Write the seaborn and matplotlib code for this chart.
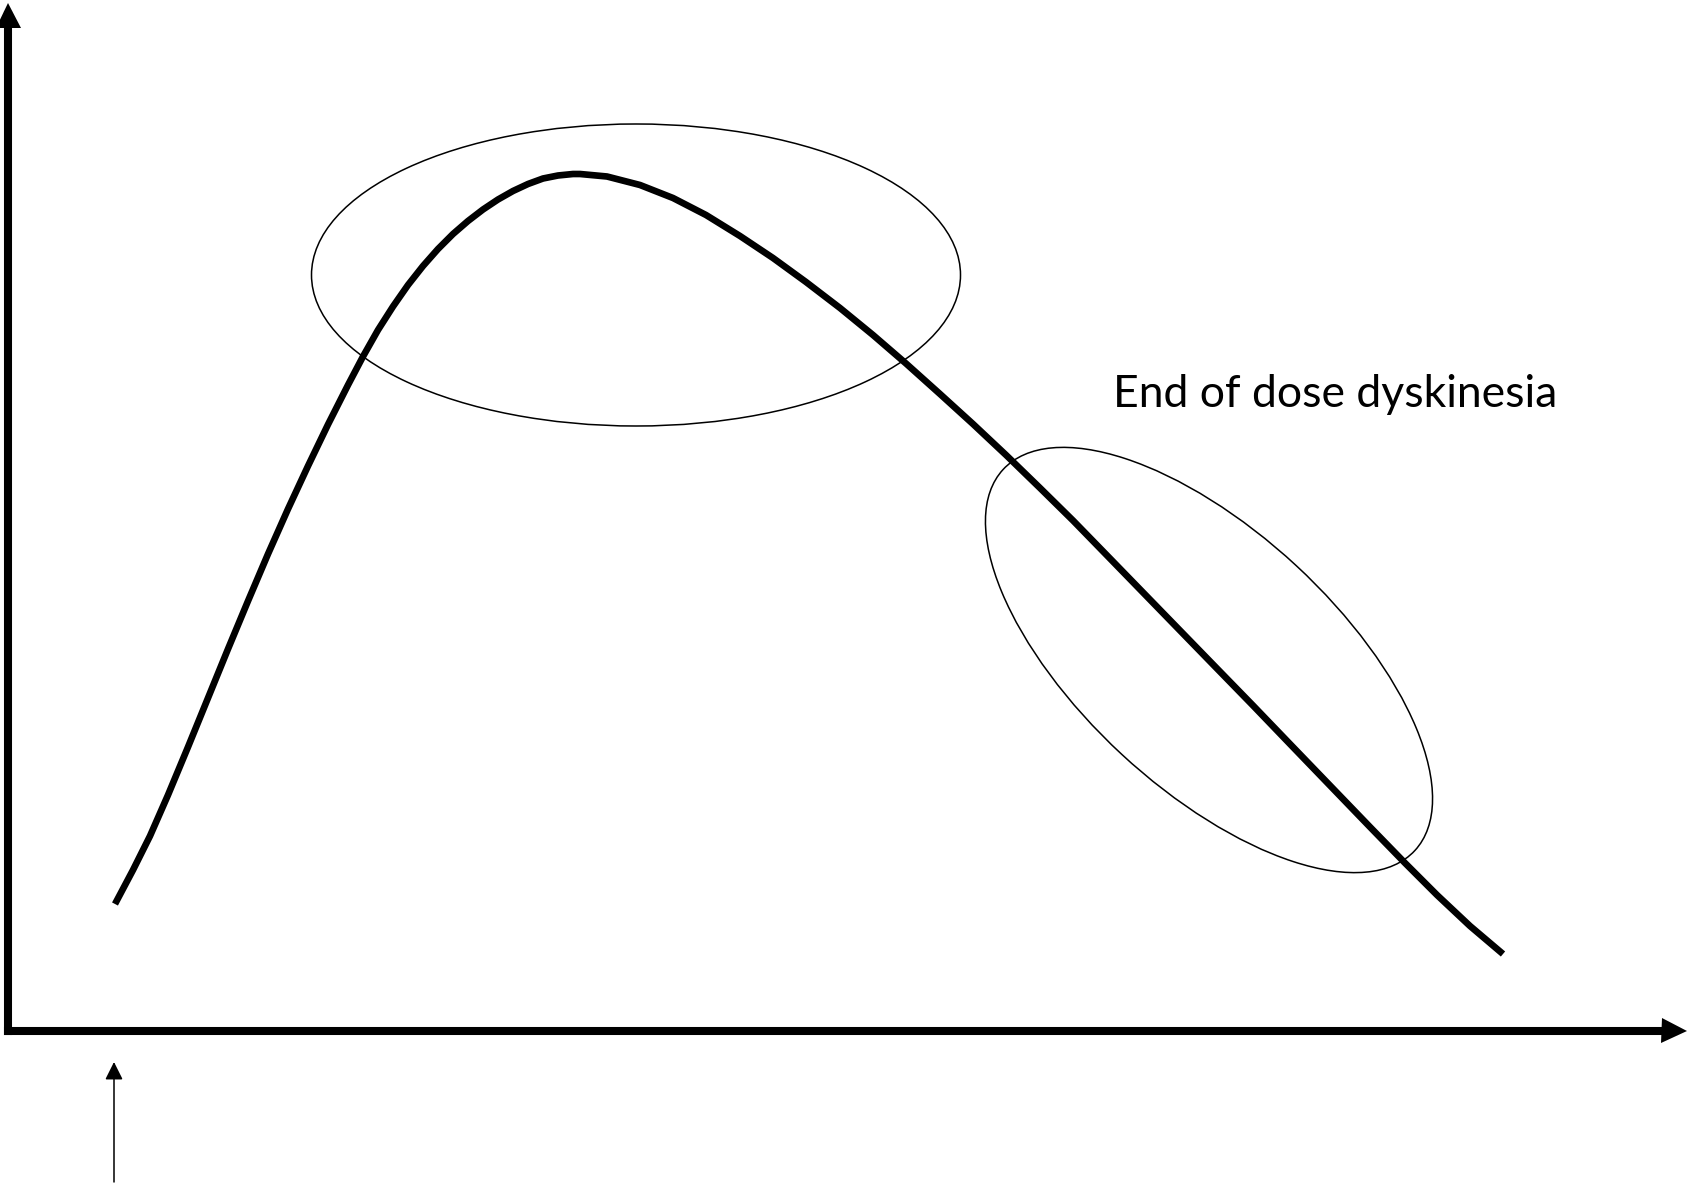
import numpy as np
import pandas as pd
import matplotlib
matplotlib.use("Agg")
import matplotlib.pyplot as plt
from matplotlib.patches import Ellipse
import seaborn as sns

# curve (arbitrary units, origin at the axes corner)
time = [107, 125, 142, 160, 180, 200, 220, 240, 260, 280, 300, 320, 340,
        355, 370, 385, 400, 415, 430, 445, 460, 475, 490, 505, 520, 535,
        550, 565, 572, 599, 632, 665, 698, 732, 765, 798, 832, 865, 898,
        932, 965, 998, 1032, 1065, 1102, 1137, 1172, 1207, 1245, 1282,
        1322, 1362, 1397, 1429, 1462, 1495]
level = [127, 161, 195, 236, 284, 333, 382, 430, 477, 522, 565, 606.5, 646,
         674.5, 701, 724.5, 746, 765, 782, 797, 810, 821.5, 831.5, 840, 847,
         852.5, 855.5, 857, 857, 854.5, 846, 833, 816, 795, 773, 749, 723,
         696, 667.5, 637, 607, 576, 543, 510.5, 472.5, 436.5, 400.5, 364.5,
         325.5, 287, 245.5, 204, 168, 136, 105, 77]

# highlighted regions: centre x, centre y, width, height, angle
peak_zone = (628, 756, 649, 302, 0)
end_zone = (1201, 371, 561, 257, -42.8)

label_text = "End of dose dyskinesia"
label_pos = (1105, 624)

# dose marker below the time axis
dose_time = 106
dose_arrow = (-151, -31)

df = pd.DataFrame({"time": time, "level": level})

sns.set_style("white")
plt.rcParams["font.family"] = ["Lato", "DejaVu Sans"]

W, H = 1691, 1187
fig = plt.figure(figsize=(W / 100, H / 100), dpi=100)
ax = fig.add_axes([8 / W, (H - 1031) / H, 1666 / W, 1016 / H])
ax.set_xlim(0, 1666)
ax.set_ylim(0, 1016)

sns.lineplot(data=df, x="time", y="level", ax=ax, color="black", lw=4.8,
             sort=False, solid_capstyle="butt", solid_joinstyle="round")

for cx, cy, w, h, ang in (peak_zone, end_zone):
    ax.add_patch(Ellipse((cx, cy), w, h, angle=ang, fill=False,
                         ec="black", lw=1.1))

ax.text(label_pos[0], label_pos[1], label_text, fontsize=32,
        va="baseline", ha="left", color="black")

ax.annotate("", xy=(dose_time, dose_arrow[1]), xytext=(dose_time, dose_arrow[0]),
            arrowprops=dict(arrowstyle="-|>", lw=1.1, color="black",
                            mutation_scale=27, shrinkA=0, shrinkB=0),
            annotation_clip=False)

# axes with arrow heads
sns.despine(ax=ax, top=True, right=True)
for side in ("left", "bottom"):
    ax.spines[side].set_linewidth(5.8)
    ax.spines[side].set_color("black")
ax.plot(1, 0, ">", color="black", ms=18, mew=0, transform=ax.transAxes, clip_on=False)
ax.plot(0, 1, "^", color="black", ms=18, mew=0, transform=ax.transAxes, clip_on=False)

ax.set_xticks([])
ax.set_yticks([])
ax.set_xlabel("")
ax.set_ylabel("")

fig.savefig("out.png", dpi=100, facecolor="white")
